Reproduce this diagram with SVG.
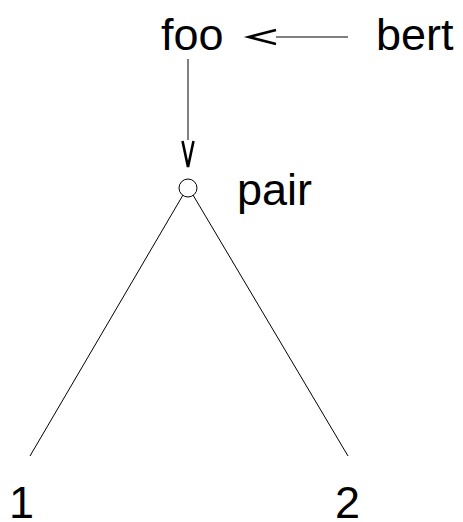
<svg xmlns="http://www.w3.org/2000/svg" width="463" height="522" viewBox="0 0 463 522">
<style>
text{font-family:"Liberation Sans",Arial,sans-serif;font-size:45px;fill:#000}
.ln{stroke:#000;stroke-width:1;fill:none}
.ah{stroke:#000;stroke-width:2.6;fill:none;stroke-linejoin:miter}
</style>
<rect width="463" height="522" fill="#fff"/>
<g id="connectors">
<line class="ln" x1="348" y1="37" x2="276" y2="37"/>
<polyline class="ah" points="276,30 249,37 276,44"/>
<line class="ln" x1="188" y1="59" x2="188" y2="140"/>
<polyline class="ah" points="182.5,141 188,167 193.5,141"/>
<line class="ln" x1="183" y1="195" x2="30" y2="456"/>
<line class="ln" x1="193" y1="195" x2="348" y2="456"/>
</g>
<g id="foo"><text x="161" y="50">foo</text></g>
<g id="bert"><text x="376" y="50">bert</text></g>
<g id="pair">
<circle cx="188" cy="188" r="9" fill="#fff" stroke="#000" stroke-width="1"/>
<text x="237" y="205">pair</text>
</g>
<g id="n1"><text x="9" y="518">1</text></g>
<g id="n2"><text x="335" y="518">2</text></g>
</svg>
